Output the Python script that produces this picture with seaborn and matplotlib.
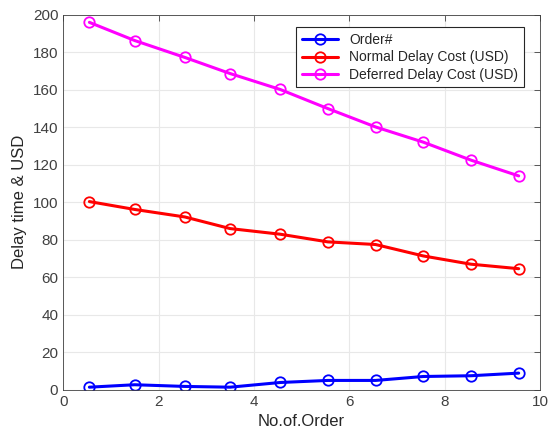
import numpy as np
import pandas as pd
import seaborn as sns
import matplotlib.pyplot as plt

# values
x_pos = [0.55, 1.5, 2.55, 3.5, 4.55, 5.55, 6.55, 7.55, 8.55, 9.55]
order_no = [1.4, 2.7, 1.8, 1.4, 3.9, 5.0, 5.0, 7.1, 7.5, 8.9]
normal_cost = [100.4, 96.2, 92.2, 86.0, 83.0, 78.9, 77.5, 71.4, 67.0, 64.6]
deferred_cost = [196.0, 186.3, 177.3, 168.7, 160.2, 150.0, 140.2, 132.1, 122.5, 114.1]

series_names = ['Order#', 'Normal Delay Cost (USD)', 'Deferred Delay Cost (USD)']
colors = ['#0000ff', '#ff0000', '#ff00ff']

df = pd.DataFrame({
    'x': x_pos * 3,
    'y': order_no + normal_cost + deferred_cost,
    'series': [series_names[0]] * 10 + [series_names[1]] * 10 + [series_names[2]] * 10,
})

sns.set_style('white')
plt.rcParams['font.family'] = ['Liberation Sans', 'DejaVu Sans']

fig = plt.figure(figsize=(5.54, 4.37), dpi=100)
ax = fig.add_axes([0.114, 0.108, 0.861, 0.858])

sns.lineplot(data=df, x='x', y='y', hue='series', hue_order=series_names,
             palette=colors, marker='o', markersize=7.5, markerfacecolor='none',
             markeredgewidth=1.3, linewidth=2.2, legend=False, ax=ax)

for line, c in zip(ax.lines, colors):
    line.set_markeredgecolor(c)

ax.set_xlim(0, 10)
ax.set_ylim(0, 200)
ax.set_xticks(np.arange(0, 11, 2))
ax.set_yticks(np.arange(0, 201, 20))
ax.grid(True, color='#e8e8e8', linewidth=0.8)
ax.tick_params(direction='in', length=4, top=True, right=True,
               labelsize=11, colors='#404040', width=0.6)
for s in ax.spines.values():
    s.set_color('#404040')
    s.set_linewidth(0.6)

ax.set_xlabel('No.of.Order', fontsize=12, color='#262626')
ax.set_ylabel('Delay time & USD', fontsize=12, color='#262626')

leg = ax.legend(ax.lines[:3], series_names, loc='upper right',
                bbox_to_anchor=(0.98, 0.985), fontsize=10, frameon=True,
                fancybox=False, framealpha=1, borderpad=0.4, handlelength=2.6,
                labelspacing=0.25)
leg.get_frame().set_edgecolor('#262626')
leg.get_frame().set_linewidth(0.8)

fig.savefig('out.png', dpi=100)
